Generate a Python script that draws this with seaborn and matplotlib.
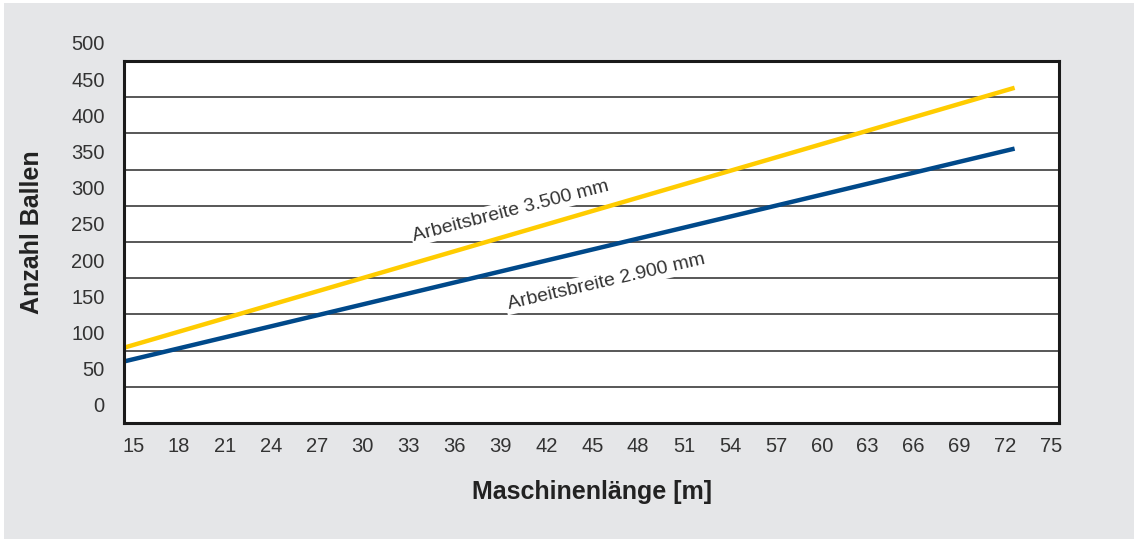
import numpy as np
import pandas as pd
import seaborn as sns
import matplotlib.pyplot as plt
from matplotlib.patches import Rectangle
from matplotlib.transforms import ScaledTranslation

# data (y in grid units, 0 = bottom line)
laenge = [14.4, 72.6]
ballen_3500 = [104, 463]
ballen_2900 = [85, 379]
series = ['Arbeitsbreite 3.500 mm', 'Arbeitsbreite 2.900 mm']
x_ticks = list(range(15, 76, 3))
y_ticks = list(range(0, 501, 50))

df = pd.DataFrame({
	'laenge': laenge + laenge,
	'ballen': ballen_3500 + ballen_2900,
	'serie': [series[0]] * 2 + [series[1]] * 2,
})
palette = {series[0]: '#FFCC00', series[1]: '#00498A'}

sns.set_theme(style='white')
plt.rcParams['font.family'] = ['Liberation Sans', 'DejaVu Sans']

fig = plt.figure(figsize=(11.41, 5.40), dpi=100, facecolor='white')
fig.patches.append(Rectangle((4/1141, 1/540), 1130/1141, 536/540, transform=fig.transFigure,
	facecolor='#e5e6e8', edgecolor='none', zorder=-10))
ax = fig.add_axes([124/1141, (540-423)/540, (1059-124)/1141, (423-61)/540])
ax.set_facecolor('white')

sns.lineplot(data=df, x='laenge', y='ballen', hue='serie', palette=palette,
	linewidth=3.2, ax=ax, legend=False, solid_capstyle='butt')

ax.set_xlim(14.4, 75.5)
ax.set_ylim(0, 500)
ax.set_xticks(x_ticks)
ax.set_yticks(y_ticks)
ax.yaxis.grid(True, color='#4a4a4a', linewidth=1.3)
ax.set_axisbelow(True)
for s in ax.spines.values():
	s.set_color('#1a1a1a')
	s.set_linewidth(2.2)
	s.set_zorder(5)

ax.tick_params(axis='both', length=0, labelsize=14.5, labelcolor='#333333')
ax.tick_params(axis='y', pad=14)
ax.tick_params(axis='x', pad=10)
# labels sit between the grid lines
off = ScaledTranslation(0, 0.181, fig.dpi_scale_trans)
for lab in ax.get_yticklabels():
	lab.set_transform(lab.get_transform() + off)

ax.set_xlabel('Maschinenlänge [m]', fontsize=18, fontweight='bold', color='#222222')
ax.set_ylabel('Anzahl Ballen', fontsize=18, fontweight='bold', color='#222222')
ax.xaxis.set_label_coords(0.5, -0.19)
ax.xaxis.label.set_va('center')
ax.yaxis.set_label_coords(-0.098, 0.528)
ax.yaxis.label.set_va('center')

ax.text(39.7, 293, series[0], rotation=14.5, rotation_mode='anchor', ha='center', va='center',
	fontsize=14, color='#333333', bbox=dict(facecolor='white', edgecolor='none', pad=1.5), zorder=3)
ax.text(45.9, 195, series[1], rotation=13, rotation_mode='anchor', ha='center', va='center',
	fontsize=14, color='#333333', bbox=dict(facecolor='white', edgecolor='none', pad=1.5), zorder=3)

fig.savefig('out.png', dpi=100, facecolor='white')
plt.close()
